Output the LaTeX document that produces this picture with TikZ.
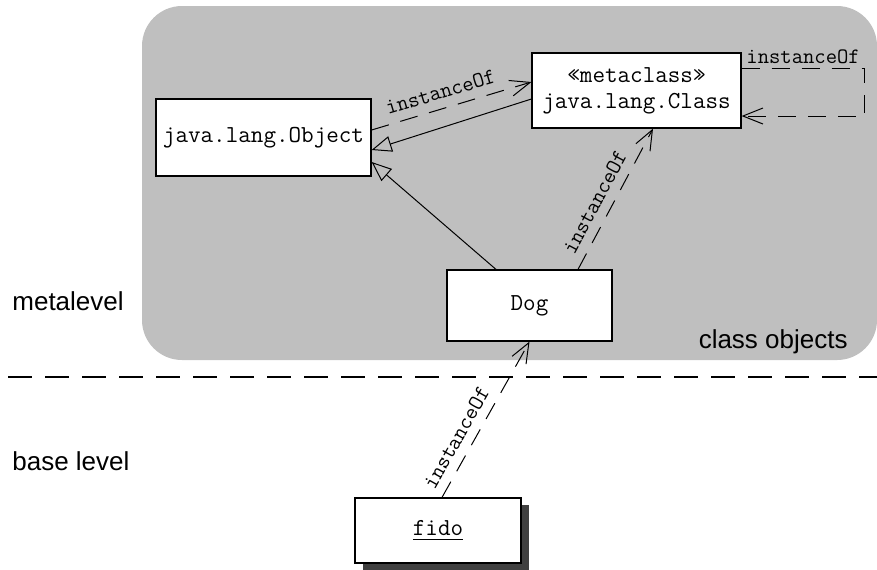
\documentclass[tikz,border=0pt]{standalone}
\usepackage{fontspec}
\setmainfont{Liberation Sans}
\usetikzlibrary{arrows.meta,shadows}
\tikzset{
      classbox/.style={
          rectangle,
          draw=black,
          fill=white,
          line width=0.6pt,
          font=\fontsize{12.2}{13}\selectfont\ttfamily
      },
      depend/.style={
          draw,
          line width=0.5pt,
          dash pattern=on 9pt off 6pt,
          -{Straight Barb[length=10pt,width=8pt]}
      },
      general/.style={
          draw,
          line width=0.5pt,
          -{Triangle[open,length=10pt,width=8pt]}
      },
      deplabel/.style={
          font=\fontsize{11}{12}\selectfont\ttfamily,
          inner sep=1pt
      },
      levellabel/.style={
          font=\fontsize{13}{15}\selectfont,
          inner sep=0pt
      }
  }

\begin{document}
\begin{tikzpicture}[x=0.5pt,y=-0.5pt]
    \useasboundingbox (0,0) rectangle (877,569);
    %% metalevel area and level line
    \fill[black!25, rounded corners=20pt] (142,6) rectangle (877,360);
    \draw[line width=1pt, dash pattern=on 12pt off 6.5pt] (8,377) -- (877,377);

    \node [levellabel, anchor=base west] (meta) at (12,310) {metalevel};
    \node [levellabel, anchor=base west] (base) at (12,470) {base level};
    \node [levellabel, anchor=base east] (clsobj) at (848,348) {class objects};

    \node [classbox, minimum width=107.5pt, minimum height=38.5pt] (obj) at (263.5,137.5) {java.lang.Object};
    \node [classbox, minimum width=104.5pt, minimum height=37.5pt, align=center] (cls) at (636.5,90.5) {«metaclass»\\java.lang.Class};
    \node [classbox, minimum width=82.5pt, minimum height=35.5pt] (dog) at (529.5,305.5) {Dog};
    \node [classbox, minimum width=83pt, minimum height=32.5pt,
           drop shadow={shadow xshift=4pt, shadow yshift=-3.5pt, fill=black!75, opacity=1}] (fido) at (438,530.5) {\underline{fido}};

    %%
    \draw[depend] ([yshift=3.75pt]obj.east) -- node[deplabel, sloped, above=3.5pt, pos=0.46] (io1) {instanceOf} ([yshift=4.25pt]cls.west);
    \draw[general] ([yshift=-4.25pt]cls.west) -- ([yshift=-6.25pt]obj.east);
    \draw[general] ([xshift=-16.75pt]dog.north) -- ([yshift=-12.25pt]obj.east);
    \draw[depend] ([xshift=24.25pt]dog.north) -- node[deplabel, sloped, above=3.5pt, pos=0.42] (io2) {instanceOf} ([xshift=8.25pt]cls.south);
    \draw[depend] ([yshift=11.25pt]cls.east) -- ++(123,0) node[deplabel, midway, above=1pt] (io3) {instanceOf} |- ([yshift=-12.75pt]cls.east);
    \draw[depend] ([xshift=2pt]fido.north) -- node[deplabel, sloped, above=3.5pt, pos=0.33] (io4) {instanceOf} (dog.south);
    %%
\end{tikzpicture}
\end{document}
